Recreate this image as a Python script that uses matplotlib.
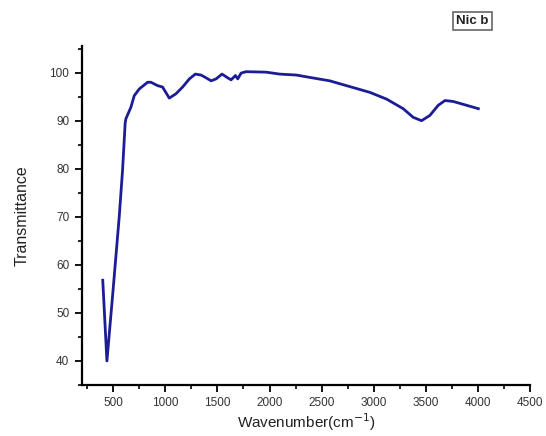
import matplotlib
matplotlib.use("Agg")
import matplotlib.pyplot as plt
from matplotlib.ticker import MultipleLocator

plt.rcParams['font.family'] = ['Liberation Sans', 'DejaVu Sans']

wavenumber = [400, 440, 500, 558, 590, 615, 622, 670, 702, 750, 830, 862, 926, 974,
              1038, 1102, 1166, 1231, 1288, 1343, 1385, 1439, 1487, 1544, 1593, 1631,
              1673, 1695, 1727, 1775, 1968, 2096, 2257, 2415, 2577, 2737, 2962, 3122,
              3282, 3378, 3458, 3538, 3618, 3683, 3762, 3891, 4003]
transmittance = [56.8, 40.0, 55.0, 70.0, 79.7, 89.5, 90.4, 92.8, 95.2, 96.6, 98.0, 98.0,
                 97.3, 97.0, 94.7, 95.6, 97.0, 98.7, 99.7, 99.5, 99.0, 98.3, 98.7, 99.7,
                 99.0, 98.5, 99.4, 98.7, 99.9, 100.2, 100.1, 99.7, 99.5, 98.9, 98.3, 97.3,
                 95.9, 94.5, 92.5, 90.7, 90.0, 91.1, 93.2, 94.2, 94.0, 93.2, 92.5]

fig = plt.figure(figsize=(5.46, 4.36), dpi=100)
ax = fig.add_axes([0.150, 0.117, 0.821, 0.777])
ax.plot(wavenumber, transmittance, color='#1c1c96', lw=2.0)

ax.set_xlim(200, 4500)
ax.set_ylim(35, 105.5)
ax.xaxis.set_minor_locator(MultipleLocator(250))
ax.yaxis.set_minor_locator(MultipleLocator(5))
ax.set_xticks(range(500, 4501, 500))
ax.set_yticks(range(40, 101, 10))

for s in ['top', 'right']:
    ax.spines[s].set_visible(False)
for s in ['left', 'bottom']:
    ax.spines[s].set_linewidth(1.6)

ax.tick_params(which='major', direction='out', length=5, width=1.3, labelsize=8.5,
               labelcolor='#333333', pad=4)
ax.tick_params(which='minor', direction='out', length=3, width=1.2)

ax.set_xlabel('Wavenumber(cm$^{-1}$)', fontsize=11, color='#222222', labelpad=1)
ax.set_ylabel('Transmittance', fontsize=11.5, color='#222222', labelpad=14)

fig.text(0.865, 0.952, 'Nic b', fontsize=9.5, ha='center', va='center', color='#222222',
         fontweight='bold',
         bbox=dict(boxstyle='square,pad=0.25', fc='white', ec='#666666', lw=1.2))

fig.savefig('out.png', dpi=100)
